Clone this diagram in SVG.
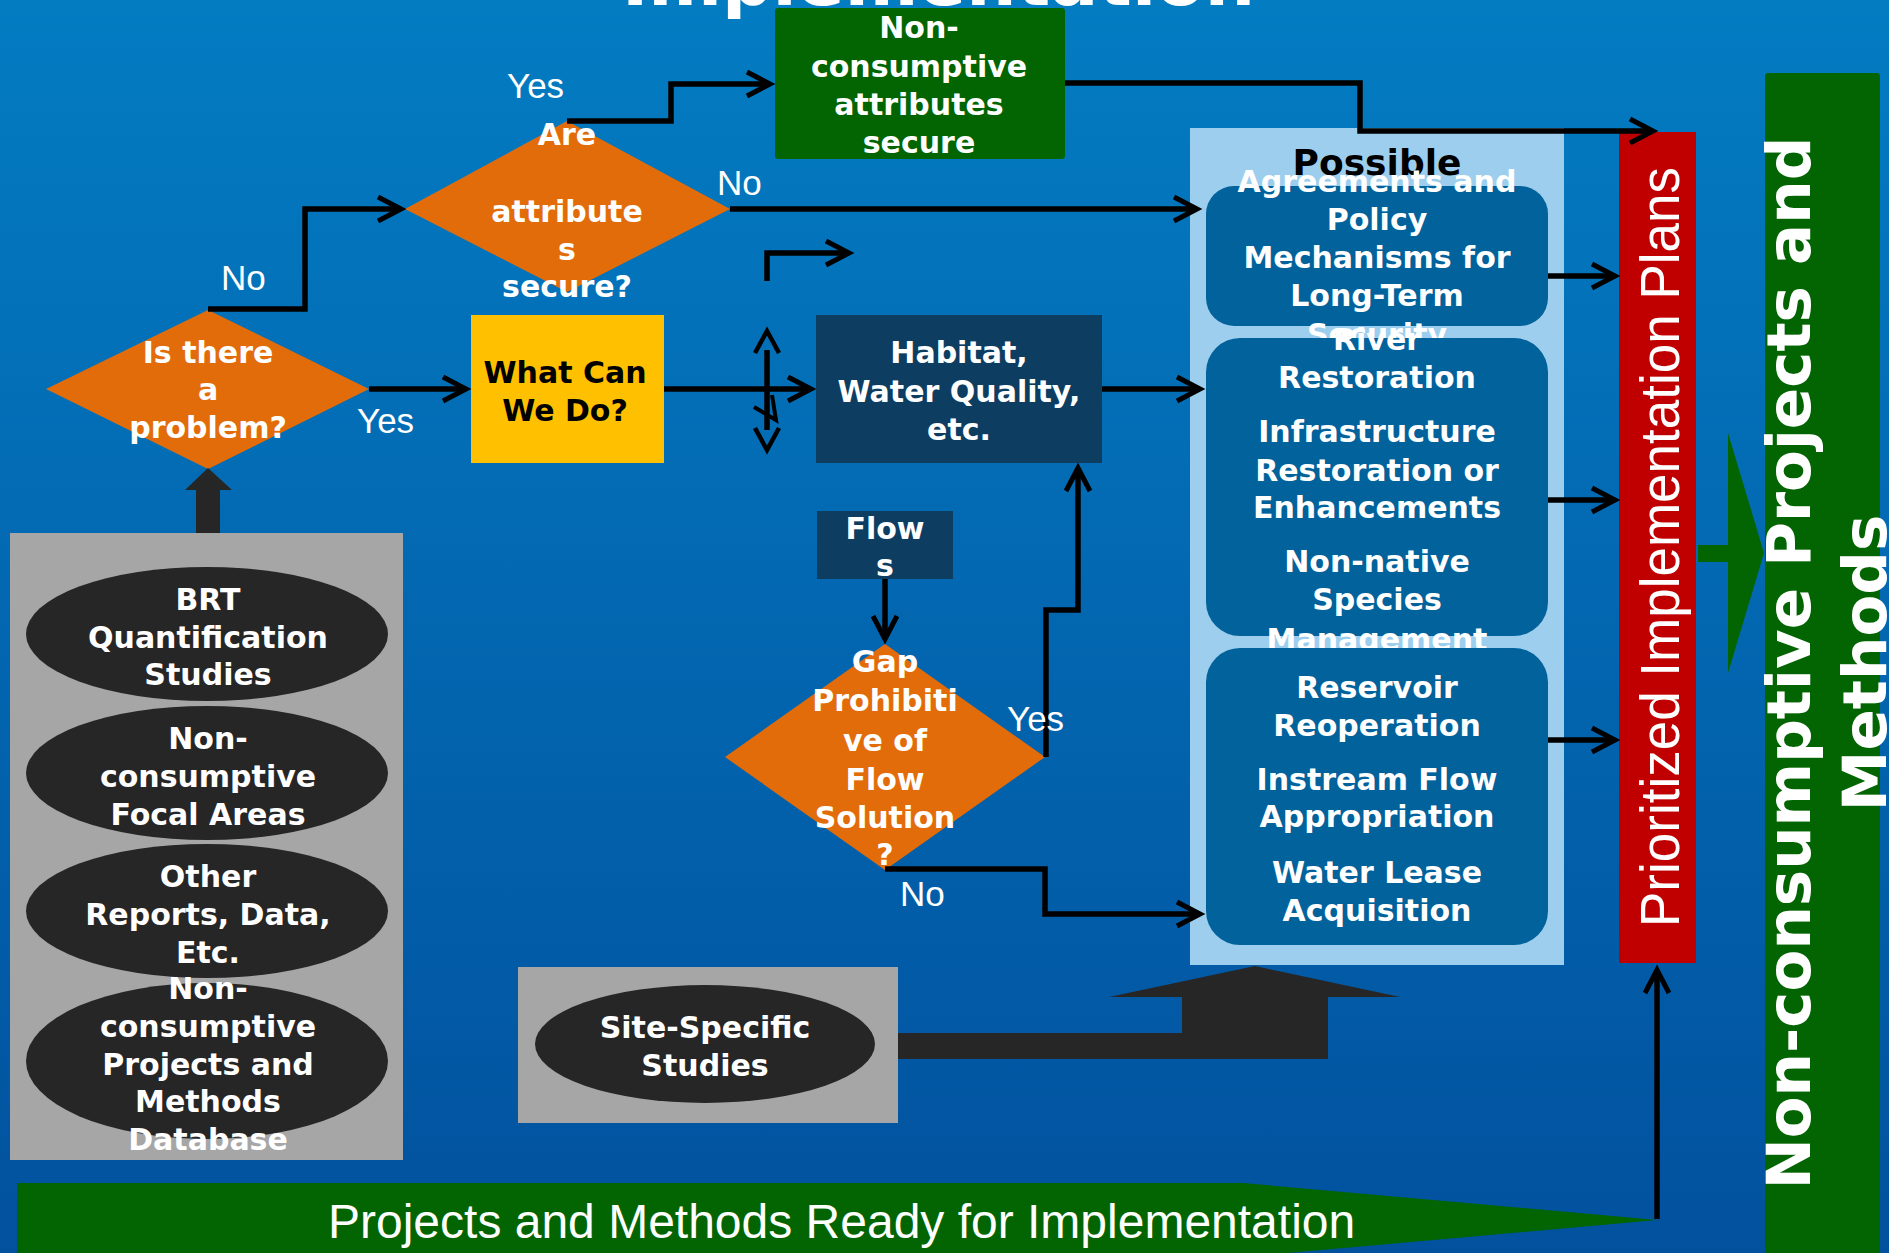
<svg xmlns="http://www.w3.org/2000/svg" width="1889" height="1253" viewBox="0 0 1889 1253">
<defs>
<linearGradient id="bg" x1="0" y1="0" x2="0" y2="1">
<stop offset="0" stop-color="#037CC2"/>
<stop offset="1" stop-color="#02519E"/>
</linearGradient>
<marker id="ah" markerUnits="userSpaceOnUse" viewBox="-30 -20 40 40" markerWidth="40" markerHeight="40" refX="0" refY="0" orient="auto" overflow="visible">
<path d="M-23,-12 L0,0 L-23,12" fill="none" stroke="#000" stroke-width="5"/>
</marker>
<style>
.b{font-family:"DejaVu Sans",Verdana,sans-serif;font-weight:bold;font-size:30px;fill:#fff;text-anchor:middle}
.lbl{font-family:"Liberation Sans",Arial,sans-serif;font-size:35px;fill:#fff}
.dia{fill:#E36C0A}
.navy{fill:#0E3D62}
.ell{fill:#262626}
.gray{fill:#A6A6A6}
.rbox{fill:#02629B}
.con{fill:none;stroke:#000;stroke-width:5.5;stroke-linejoin:miter}
.arr{marker-end:url(#ah)}
</style>
</defs>
<rect x="0" y="0" width="1889" height="1253" fill="url(#bg)"/>
<text x="622" y="5" textLength="633" lengthAdjust="spacingAndGlyphs" style="font-family:'DejaVu Sans',sans-serif;font-weight:bold;font-size:70px;fill:#fff">Implementation</text>

<g id="panel">
<rect x="1190" y="128" width="374" height="837" fill="#9DCEEE"/>
<text x="1377" y="175" class="b" style="fill:#000;font-size:36px">Possible</text>
</g>
<g id="box-agreements">
<rect x="1206" y="186" width="342" height="140" rx="28" class="rbox"/>
<text class="b"><tspan x="1377" y="192">Agreements and</tspan><tspan x="1377" y="230">Policy</tspan><tspan x="1377" y="268">Mechanisms for</tspan><tspan x="1377" y="306">Long-Term</tspan><tspan x="1377" y="345">Security</tspan></text>
</g>
<g id="box-restoration">
<rect x="1206" y="338" width="342" height="298" rx="34" class="rbox"/>
<text class="b"><tspan x="1377" y="350">River</tspan><tspan x="1377" y="388">Restoration</tspan><tspan x="1377" y="442">Infrastructure</tspan><tspan x="1377" y="481">Restoration or</tspan><tspan x="1377" y="518">Enhancements</tspan><tspan x="1377" y="572">Non-native</tspan><tspan x="1377" y="610">Species</tspan><tspan x="1377" y="650">Management</tspan></text>
</g>
<g id="box-flow">
<rect x="1206" y="648" width="342" height="297" rx="34" class="rbox"/>
<text class="b"><tspan x="1377" y="698">Reservoir</tspan><tspan x="1377" y="736">Reoperation</tspan><tspan x="1377" y="790">Instream Flow</tspan><tspan x="1377" y="827">Appropriation</tspan><tspan x="1377" y="883">Water Lease</tspan><tspan x="1377" y="921">Acquisition</tspan></text>
</g>

<g id="red-plans">
<rect x="1619" y="132" width="77" height="831" fill="#C00000"/>
<text transform="translate(1679,547) rotate(-90)" text-anchor="middle" textLength="760" lengthAdjust="spacingAndGlyphs" style="font-family:'Liberation Sans',Arial,sans-serif;font-size:55px;fill:#fff">Prioritized Implementation Plans</text>
</g>
<g id="green-arrow">
<polygon points="1698,545 1728,545 1728,433 1764,553 1728,673 1728,562 1698,562" fill="#026502"/>
</g>
<g id="final-projects">
<rect x="1765" y="73" width="115" height="1200" rx="3" fill="#026502"/>
<text transform="translate(1810,663) rotate(-90)" class="b" style="font-size:61px">Non-consumptive Projects and</text>
<text transform="translate(1886,663) rotate(-90)" class="b" style="font-size:61px">Methods</text>
</g>

<g id="ready-banner">
<polygon points="17,1183 1243,1183 1657,1220 1243,1257 17,1257" fill="#026502"/>
<text x="328" y="1238" style="font-family:'Liberation Sans',Arial,sans-serif;font-size:48px;fill:#fff">Projects and Methods Ready for Implementation</text>
</g>

<g id="secure-box">
<rect x="775" y="8" width="290" height="151" rx="3" fill="#026502"/>
<text class="b"><tspan x="919" y="38">Non-</tspan><tspan x="919" y="77">consumptive</tspan><tspan x="919" y="115">attributes</tspan><tspan x="919" y="153">secure</tspan></text>
</g>
<g id="is-problem">
<polygon points="208,310 369,389 208,469 46,389" class="dia"/>
<text class="b"><tspan x="208" y="363">Is there</tspan><tspan x="208" y="400">a</tspan><tspan x="208" y="438">problem?</tspan></text>
</g>
<g id="are-secure">
<polygon points="567,121 730,209 567,292 405,209" class="dia"/>
<text class="b"><tspan x="567" y="145">Are</tspan><tspan x="567" y="222">attribute</tspan><tspan x="567" y="260">s</tspan><tspan x="567" y="297">secure?</tspan></text>
</g>
<g id="what-can">
<rect x="471" y="315" width="193" height="148" fill="#FFC000"/>
<text class="b" style="fill:#000"><tspan x="565" y="383">What Can</tspan><tspan x="565" y="421">We Do?</tspan></text>
</g>
<g id="habitat">
<rect x="816" y="315" width="286" height="148" class="navy"/>
<text class="b"><tspan x="959" y="363">Habitat,</tspan><tspan x="959" y="402">Water Quality,</tspan><tspan x="959" y="440">etc.</tspan></text>
</g>
<g id="flows">
<rect x="817" y="511" width="136" height="68" class="navy"/>
<text class="b"><tspan x="885" y="539">Flow</tspan><tspan x="885" y="576">s</tspan></text>
</g>
<g id="gap">
<polygon points="885,644 1045,757 885,870 725,757" class="dia"/>
<text class="b"><tspan x="885" y="672">Gap</tspan><tspan x="885" y="711">Prohibiti</tspan><tspan x="885" y="751">ve of</tspan><tspan x="885" y="790">Flow</tspan><tspan x="885" y="828">Solution</tspan><tspan x="885" y="865">?</tspan></text>
</g>

<g id="sources">
<rect x="10" y="533" width="393" height="627" class="gray"/>
<ellipse cx="207" cy="634" rx="181" ry="67" class="ell"/>
<text class="b"><tspan x="208" y="610">BRT</tspan><tspan x="208" y="648">Quantification</tspan><tspan x="208" y="685">Studies</tspan></text>
<ellipse cx="207" cy="773" rx="181" ry="67" class="ell"/>
<text class="b"><tspan x="208" y="749">Non-</tspan><tspan x="208" y="787">consumptive</tspan><tspan x="208" y="825">Focal Areas</tspan></text>
<ellipse cx="207" cy="911" rx="181" ry="67" class="ell"/>
<text class="b"><tspan x="208" y="887">Other</tspan><tspan x="208" y="925">Reports, Data,</tspan><tspan x="208" y="963">Etc.</tspan></text>
<ellipse cx="207" cy="1061" rx="181" ry="78" class="ell"/>
<text class="b"><tspan x="208" y="999">Non-</tspan><tspan x="208" y="1037">consumptive</tspan><tspan x="208" y="1075">Projects and</tspan><tspan x="208" y="1112">Methods</tspan><tspan x="208" y="1150">Database</tspan></text>
<polygon points="196,533 196,490 185,490 208,468 232,490 220,490 220,533" fill="#262626"/>
</g>
<g id="site-specific">
<rect x="518" y="967" width="380" height="156" class="gray"/>
<ellipse cx="705" cy="1044" rx="170" ry="59" class="ell"/>
<text class="b"><tspan x="705" y="1038">Site-Specific</tspan><tspan x="705" y="1076">Studies</tspan></text>
<polygon points="898,1033 1182,1033 1182,997 1109,997 1255,966 1400,997 1328,997 1328,1059 898,1059" fill="#262626"/>
</g>

<g id="connectors">
<polyline class="con arr" points="208,309 305,309 305,209 401,209"/>
<polyline class="con arr" points="369,389 466,389"/>
<polyline class="con arr" points="567,121 671,121 671,84 770,84"/>
<polyline class="con arr" points="730,209 1197,209"/>
<polyline class="con arr" points="664,389 811,389"/>
<line class="con" x1="767" y1="350" x2="767" y2="430"/>
<polyline class="con" style="stroke-width:4.5" points="755,353 767,331 779,353"/>
<polyline class="con" style="stroke-width:4.5" points="755,428 767,450 779,428"/>
<polyline class="con" style="stroke-width:4" points="772,395 776,420 754,407"/>
<polyline class="con arr" points="767,281 767,253 849,253"/>
<polyline class="con arr" points="1102,389 1200,389"/>
<polyline class="con arr" points="1065,83 1360,83 1360,131 1653,131"/>
<polyline class="con arr" points="1548,276 1615,276"/>
<polyline class="con arr" points="1548,500 1615,500"/>
<polyline class="con arr" points="1548,740 1615,740"/>
<polyline class="con arr" points="885,579 885,639"/>
<polyline class="con arr" points="1046,757 1046,610 1078,610 1078,468"/>
<polyline class="con arr" points="885,869 1045,869 1045,914 1200,914"/>
<polyline class="con arr" points="1657,1219 1657,970"/>
</g>

<g id="labels">
<text x="507" y="98" class="lbl">Yes</text>
<text x="221" y="290" class="lbl">No</text>
<text x="357" y="433" class="lbl">Yes</text>
<text x="717" y="195" class="lbl">No</text>
<text x="1007" y="731" class="lbl">Yes</text>
<text x="900" y="906" class="lbl">No</text>
</g>
</svg>
